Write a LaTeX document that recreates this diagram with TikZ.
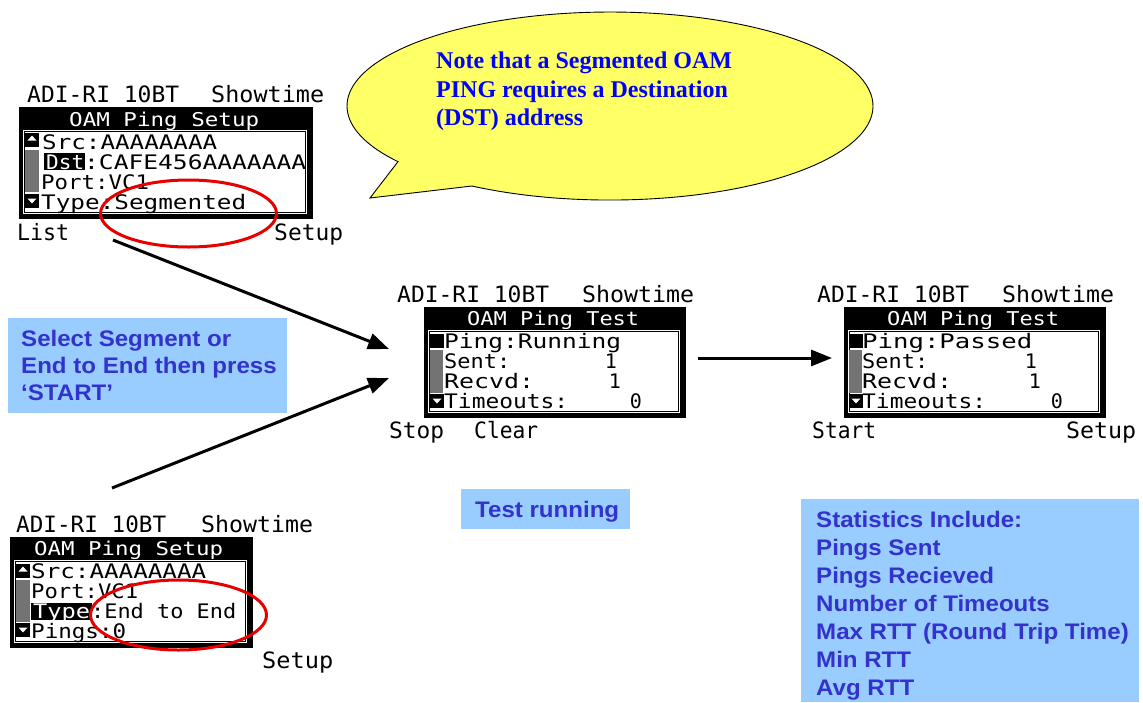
\documentclass[tikz,border=0pt]{standalone}
\usepackage{fontspec}
\usepackage{graphicx}
\setmainfont{Liberation Sans}
\newfontfamily\lcdfont{DejaVu Sans Mono}
\newfontfamily\tipfont[FakeStretch=1.07]{Liberation Sans}
\newfontfamily\notefont{Liberation Serif}
\usetikzlibrary{arrows.meta}
\newsavebox\lcdbox

\definecolor{noteyellow}{HTML}{FFFF66}
\definecolor{noteblue}{HTML}{0000FF}
\definecolor{tipfill}{HTML}{99CCFF}
\definecolor{tiptext}{HTML}{3333CC}
\definecolor{ringred}{HTML}{E60000}

\tikzset{
  % squeeze or stretch a text horizontally to a given width (in pt)
  fitto/.style={execute at begin node={\begin{lrbox}{\lcdbox}},
                execute at end node={\end{lrbox}\resizebox{#1pt}{\height}{\usebox{\lcdbox}}}},
  lcdhead/.style={font=\lcdfont\fontsize{22.5}{22.5}\selectfont, inner sep=0pt, anchor=base west},
  lcdrow/.style={font=\lcdfont\fontsize{20}{20}\selectfont, inner sep=0pt, anchor=base west},
  lcdnum/.style={font=\lcdfont\fontsize{20}{20}\selectfont, inner sep=0pt, anchor=base},
  lcdtitle/.style={font=\lcdfont\fontsize{19}{19}\selectfont, inner sep=0pt, anchor=base west, text=white},
  lcdinv/.style={lcdrow, text=white},
  dither/.style={fill=black!55},
  keyup/.pic={\fill (0,0) rectangle (14,14); \fill[white] (7,2.5) -- (11.5,7.5) -- (2.5,7.5) -- cycle;},
  keydown/.pic={\fill (0,0) rectangle (14,14); \fill[white] (2.5,4.5) -- (11.5,4.5) -- (7,9.5) -- cycle;},
  keysolid/.pic={\fill (0,0) rectangle (14,14);},
  callout/.style={draw=black, line width=0.9pt, fill=noteyellow},
  notetxt/.style={font=\notefont\bfseries\fontsize{24}{28}\selectfont, text=noteblue, inner sep=0pt, anchor=base west},
  tipbox/.style={fill=tipfill, draw=none, inner sep=0pt, anchor=north west},
  tiptxt/.style={font=\tipfont\bfseries\fontsize{22.5}{27}\selectfont, text=tiptext, inner sep=0pt, anchor=base west},
  flow/.style={line width=3pt, -{Triangle[length=21pt,width=16pt]}},
  ring/.style={draw=ringred, line width=3pt},
}

\begin{document}
\begin{tikzpicture}[x=1pt,y=-1pt]
\useasboundingbox (0,0) rectangle (1143,702);

% ---------- speech bubble ----------
\draw[callout] (398,161.7) -- (370,198) -- (471.8,186)
  arc[start angle=-121.7, end angle=216.3, x radius=263pt, y radius=94pt] -- cycle;
\node[notetxt] (note1) at (436,68.5) {Note that a Segmented OAM};
\node[notetxt] (note2) at (436,97) {PING requires a Destination};
\node[notetxt] (note3) at (436,125.5) {(DST) address};

% ---------- hint boxes ----------
\node[tipbox, minimum width=279pt, minimum height=95pt] (selbox) at (8,318) {};
\node[tiptxt] (sel1) at (21,346) {Select Segment or};
\node[tiptxt] (sel2) at (21,373) {End to End then press};
\node[tiptxt] (sel3) at (21,400) {‘START’};

\node[tipbox, minimum width=169pt, minimum height=40pt] (runbox) at (461,489) {};
\node[tiptxt] (run1) at (475,517) {Test running};

\node[tipbox, minimum width=338pt, minimum height=203pt] (statbox) at (801,499) {};
\node[tiptxt] (st1) at (816,527) {Statistics Include:};
\node[tiptxt] (st2) at (816,555) {Pings Sent};
\node[tiptxt] (st3) at (816,583) {Pings Recieved};
\node[tiptxt] (st4) at (816,611) {Number of Timeouts};
\node[tiptxt] (st5) at (816,639) {Max RTT (Round Trip Time)};
\node[tiptxt] (st6) at (816,667) {Min RTT};
\node[tiptxt] (st7) at (816,695) {Avg RTT};

% ---------- screen 1: setup, segmented ----------
\node[lcdhead, fitto=152] (s1dev) at (27,102) {ADI-RI 10BT};
\node[lcdhead, fitto=113] (s1state) at (211,102) {Showtime};
\fill (19,107) rectangle (313,219);
\fill[white] (23,130) rectangle (307,214);
\draw[line width=1pt] (24.5,131.5) rectangle (305.5,212.5);
\node[lcdtitle, fitto=190] (s1title) at (69,126) {OAM Ping Setup};
\pic at (25,133) {keyup};
\fill[dither] (25,150) rectangle (39,192);
\pic at (25,194) {keydown};
\node[lcdrow, fitto=175] (s1src) at (42,149) {Src:AAAAAAAA};
\fill (44,153) rectangle (85,170);
\node[lcdinv, fitto=38] (s1dst) at (46,169) {Dst};
\node[lcdrow, fitto=222] (s1dstval) at (84,169) {:CAFE456AAAAAAA};
\node[lcdrow, fitto=108] (s1port) at (41,189) {Port:VC1};
\node[lcdrow, fitto=205] (s1type) at (41,209) {Type:Segmented};
\node[lcdhead, fitto=52] (s1list) at (17,240) {List};
\node[lcdhead, fitto=69] (s1setup) at (274,240) {Setup};

% ---------- screen 2: test running ----------
\node[lcdhead, fitto=152] (s2dev) at (397,302) {ADI-RI 10BT};
\node[lcdhead, fitto=112] (s2state) at (582,302) {Showtime};
\fill (424,307) rectangle (686,418);
\fill[white] (428,330) rectangle (680,413);
\draw[line width=1pt] (429.5,331.5) rectangle (678.5,411.5);
\node[lcdtitle, fitto=172] (s2title) at (467,325) {OAM Ping Test};
\pic at (430,334) {keysolid};
\fill[dither] (430,350) rectangle (443,393);
\pic at (430,394) {keydown};
\node[lcdrow, fitto=177] (s2ping) at (444,348) {Ping:Running};
\node[lcdrow, fitto=66] (s2sent) at (444,368) {Sent:};
\node[lcdnum] (s2sentn) at (611,368) {1};
\node[lcdrow, fitto=90] (s2recvd) at (444,388) {Recvd:};
\node[lcdnum] (s2recvdn) at (615,388) {1};
\node[lcdrow, fitto=124] (s2tmo) at (444,408) {Timeouts:};
\node[lcdnum] (s2tmon) at (636,408) {0};
\node[lcdhead, fitto=55] (s2stop) at (389,438) {Stop};
\node[lcdhead, fitto=64] (s2clear) at (474,438) {Clear};

% ---------- screen 3: test passed ----------
\node[lcdhead, fitto=152] (s3dev) at (817,302) {ADI-RI 10BT};
\node[lcdhead, fitto=112] (s3state) at (1002,302) {Showtime};
\fill (844,307) rectangle (1106,418);
\fill[white] (848,330) rectangle (1100,413);
\draw[line width=1pt] (849.5,331.5) rectangle (1098.5,411.5);
\node[lcdtitle, fitto=172] (s3title) at (887,325) {OAM Ping Test};
\pic at (849,334) {keysolid};
\fill[dither] (849,350) rectangle (862,393);
\pic at (849,394) {keydown};
\node[lcdrow, fitto=170] (s3ping) at (862,348) {Ping:Passed};
\node[lcdrow, fitto=66] (s3sent) at (862,368) {Sent:};
\node[lcdnum] (s3sentn) at (1031,368) {1};
\node[lcdrow, fitto=90] (s3recvd) at (862,388) {Recvd:};
\node[lcdnum] (s3recvdn) at (1035,388) {1};
\node[lcdrow, fitto=124] (s3tmo) at (862,408) {Timeouts:};
\node[lcdnum] (s3tmon) at (1057,408) {0};
\node[lcdhead, fitto=64] (s3start) at (812,438) {Start};
\node[lcdhead, fitto=70] (s3setup) at (1066,438) {Setup};

% ---------- screen 4: setup, end to end ----------
\node[lcdhead, fitto=150] (s4dev) at (16,532) {ADI-RI 10BT};
\node[lcdhead, fitto=112] (s4state) at (201,532) {Showtime};
\fill (10,537) rectangle (253,648);
\fill[white] (14,560) rectangle (247,643);
\draw[line width=1pt] (15.5,561.5) rectangle (245.5,641.5);
\node[lcdtitle, fitto=189] (s4title) at (34,555) {OAM Ping Setup};
\pic at (16,564) {keyup};
\fill[dither] (16,580) rectangle (30,622);
\pic at (16,623) {keydown};
\node[lcdrow, fitto=175] (s4src) at (31,578.5) {Src:AAAAAAAA};
\node[lcdrow, fitto=107] (s4port) at (31,598.5) {Port:VC1};
\fill (31,603) rectangle (92,620);
\node[lcdinv, fitto=57] (s4type) at (33,618.5) {Type};
\node[lcdrow, fitto=145] (s4typeval) at (91,618.5) {:End to End};
\node[lcdrow, fitto=95] (s4pings) at (31,638.5) {Pings:0};
\node[lcdhead, fitto=71] (s4setup) at (262,668) {Setup};

% ---------- flow arrows ----------
\coordinate (segout) at (113,240);
\coordinate (e2eout) at (112,488);
\coordinate (runin1) at (389,349);
\coordinate (runin2) at (389,378);
\coordinate (runout) at (698,358);
\coordinate (passin) at (832,358);
\draw[flow] (segout) -- (runin1);
\draw[flow] (e2eout) -- (runin2);
\draw[flow] (runout) -- (passin);

% ---------- highlight rings ----------
\draw[ring] (188.5,213.5) ellipse [x radius=88pt, y radius=33.5pt];
\draw[ring] (178.5,615) ellipse [x radius=88pt, y radius=35pt];
\end{tikzpicture}
\end{document}
